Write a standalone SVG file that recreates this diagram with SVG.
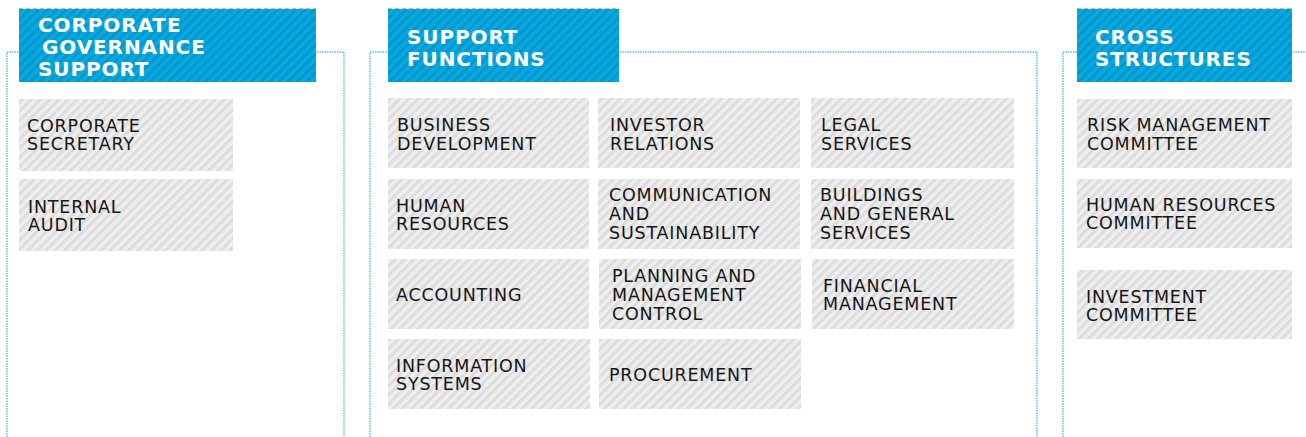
<svg xmlns="http://www.w3.org/2000/svg" width="1306" height="437" viewBox="0 0 1306 437">
<defs>
<pattern id="hatchBlue" patternUnits="userSpaceOnUse" width="6.5" height="6.5" patternTransform="rotate(45)">
<rect width="6.5" height="6.5" fill="#04abe3"/>
<rect width="3" height="6.5" fill="#0896cb"/>
</pattern>
<pattern id="hatchGray" patternUnits="userSpaceOnUse" width="6.5" height="6.5" patternTransform="rotate(45)">
<rect width="6.5" height="6.5" fill="#efefef"/>
<rect width="3.1" height="6.5" fill="#dddddd"/>
</pattern>
</defs>
<style>
.frame{fill:none;stroke:#5cc4ea;stroke-width:1.5;stroke-dasharray:1.5 1}
.hdr{fill:url(#hatchBlue)}
.hdrtop{stroke:#b9b9b9;stroke-width:1;stroke-dasharray:4 3}
.ht{font-family:"DejaVu Sans",sans-serif;font-weight:bold;font-size:20px;fill:#ffffff;letter-spacing:0.9px}
.box{fill:url(#hatchGray)}
.t{font-family:"DejaVu Sans",sans-serif;font-size:17.5px;fill:#161616;letter-spacing:0.8px}
</style>
<rect width="1306" height="437" fill="#ffffff"/>
<g id="frames">
<path class="frame" d="M7,437 V52 H344 V437"/>
<path class="frame" d="M370,437 V52 H1037 V437"/>
<path class="frame" d="M1063,437 V52 H1306"/>
</g>
<g id="hdr-governance">
<rect class="hdr" x="19" y="9" width="297" height="73"/>
<line class="hdrtop" x1="19" y1="8.5" x2="316" y2="8.5"/>
<text class="ht"><tspan x="38" y="31.5">CORPORATE</tspan><tspan x="42" y="54">GOVERNANCE</tspan><tspan x="38" y="76">SUPPORT</tspan></text>
</g>
<g id="hdr-support">
<rect class="hdr" x="388" y="9" width="231" height="73"/>
<line class="hdrtop" x1="388" y1="8.5" x2="619" y2="8.5"/>
<text class="ht"><tspan x="407" y="43.5">SUPPORT</tspan><tspan x="407" y="65.5">FUNCTIONS</tspan></text>
</g>
<g id="hdr-cross">
<rect class="hdr" x="1077" y="9" width="215" height="73"/>
<line class="hdrtop" x1="1077" y1="8.5" x2="1292" y2="8.5"/>
<text class="ht"><tspan x="1095" y="43.5">CROSS</tspan><tspan x="1095" y="65.5">STRUCTURES</tspan></text>
</g>
<g id="corporate-secretary">
<rect class="box" x="19" y="99" width="214" height="72"/>
<text class="t"><tspan x="27" y="132">CORPORATE</tspan><tspan x="27" y="150">SECRETARY</tspan></text>
</g>
<g id="internal-audit">
<rect class="box" x="19" y="179" width="214" height="72"/>
<text class="t"><tspan x="28" y="213">INTERNAL</tspan><tspan x="28" y="231">AUDIT</tspan></text>
</g>
<g id="business-development">
<rect class="box" x="388" y="98" width="201" height="70"/>
<text class="t"><tspan x="397" y="131">BUSINESS</tspan><tspan x="397" y="150">DEVELOPMENT</tspan></text>
</g>
<g id="investor-relations">
<rect class="box" x="598" y="98" width="202" height="70"/>
<text class="t"><tspan x="610" y="131">INVESTOR</tspan><tspan x="610" y="150">RELATIONS</tspan></text>
</g>
<g id="legal-services">
<rect class="box" x="811" y="98" width="203" height="70"/>
<text class="t"><tspan x="821" y="131">LEGAL</tspan><tspan x="821" y="150">SERVICES</tspan></text>
</g>
<g id="human-resources">
<rect class="box" x="388" y="179" width="201" height="70"/>
<text class="t"><tspan x="396" y="212">HUMAN</tspan><tspan x="396" y="230">RESOURCES</tspan></text>
</g>
<g id="communication-sustainability">
<rect class="box" x="598" y="179" width="202" height="70"/>
<text class="t"><tspan x="609" y="201">COMMUNICATION</tspan><tspan x="609" y="220">AND</tspan><tspan x="609" y="239">SUSTAINABILITY</tspan></text>
</g>
<g id="buildings-general-services">
<rect class="box" x="811" y="179" width="203" height="70"/>
<text class="t"><tspan x="820" y="201">BUILDINGS</tspan><tspan x="820" y="220">AND GENERAL</tspan><tspan x="820" y="239">SERVICES</tspan></text>
</g>
<g id="accounting">
<rect class="box" x="388" y="259" width="201" height="70"/>
<text class="t"><tspan x="396" y="301">ACCOUNTING</tspan></text>
</g>
<g id="planning-management-control">
<rect class="box" x="599" y="259" width="202" height="70"/>
<text class="t"><tspan x="612" y="282">PLANNING AND</tspan><tspan x="612" y="301">MANAGEMENT</tspan><tspan x="612" y="320">CONTROL</tspan></text>
</g>
<g id="financial-management">
<rect class="box" x="812" y="259" width="202" height="70"/>
<text class="t"><tspan x="823" y="292">FINANCIAL</tspan><tspan x="823" y="310">MANAGEMENT</tspan></text>
</g>
<g id="information-systems">
<rect class="box" x="388" y="339" width="202" height="70"/>
<text class="t"><tspan x="396" y="372">INFORMATION</tspan><tspan x="396" y="390">SYSTEMS</tspan></text>
</g>
<g id="procurement">
<rect class="box" x="599" y="339" width="202" height="70"/>
<text class="t"><tspan x="609" y="381">PROCUREMENT</tspan></text>
</g>
<g id="risk-management-committee">
<rect class="box" x="1077" y="99" width="215" height="69"/>
<text class="t"><tspan x="1087" y="131">RISK MANAGEMENT</tspan><tspan x="1087" y="150">COMMITTEE</tspan></text>
</g>
<g id="hr-committee">
<rect class="box" x="1077" y="179" width="215" height="69"/>
<text class="t"><tspan x="1086" y="211">HUMAN RESOURCES</tspan><tspan x="1086" y="229">COMMITTEE</tspan></text>
</g>
<g id="investment-committee">
<rect class="box" x="1077" y="270" width="215" height="69"/>
<text class="t"><tspan x="1086" y="303">INVESTMENT</tspan><tspan x="1086" y="321">COMMITTEE</tspan></text>
</g>
</svg>
